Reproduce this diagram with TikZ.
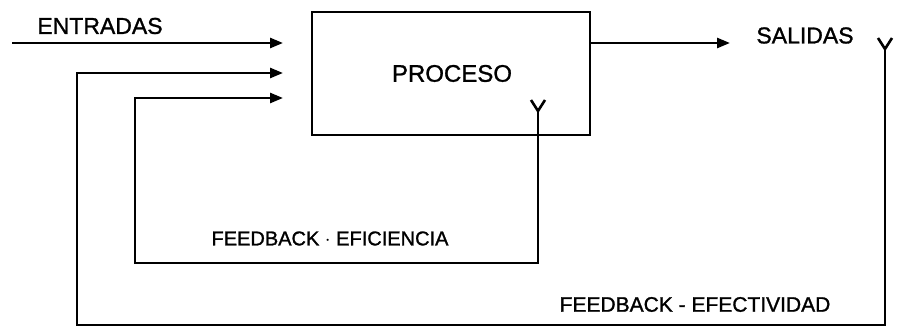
\documentclass[tikz,border=0pt]{standalone}
\usepackage{fontspec}
\setmainfont{Liberation Sans}[FakeBold=1.2]
\usetikzlibrary{arrows.meta,calc}
\begin{document}
\begin{tikzpicture}[x=1pt,y=-1pt,
  line/.style={line width=2.6pt,line join=miter},
  flow/.style={line,-{Triangle[length=13pt,width=10pt]}},
  fork/.style={line width=2.6pt,line cap=butt},
  label/.style={inner sep=0pt,anchor=center},
  procbox/.style={draw,line width=2.6pt,minimum width=278pt,minimum height=123pt,inner sep=0pt}]
\useasboundingbox (0,0) rectangle (897,328);

% process block
\node[procbox] (proc) at (451,73.5) {};
\node[label,font=\fontsize{24}{24}\selectfont] (proctxt) at (452,73.5) {PROCESO};

% free ends of the connectors
\coordinate (src) at (12,43);
\coordinate (in1) at (283,43);
\coordinate (in2) at (283,73);
\coordinate (in3) at (283,98);
\coordinate (out) at (730,43);
\coordinate (tapA) at (538,111);
\coordinate (tapB) at (885,49);

% inputs and output
\draw[flow] (src) -- (in1);
\draw[flow] (proc.east |- out) -- (out);

% efficiency loop: from inside the process back to the input
\draw[flow] (tapA) |- (135,263) |- (in3);
% effectiveness loop: from the outputs back to the input
\draw[flow] (tapB) |- (77,325) |- (in2);

% pick-off forks
\draw[fork] ($(tapA)+(-7,-11)$) -- (tapA) -- ($(tapA)+(7,-11)$);
\draw[fork] ($(tapB)+(-7,-11)$) -- (tapB) -- ($(tapB)+(7,-11)$);

% labels
\node[label,font=\fontsize{23}{23}\selectfont] (entradas) at (100,26) {ENTRADAS};
\node[label,font=\fontsize{23}{23}\selectfont] (salidas) at (805,35.5) {SALIDAS};
\node[label,font=\fontsize{20}{20}\selectfont] (efic) at (330,238.5) {FEEDBACK $\cdot$ EFICIENCIA};
\node[label,font=\fontsize{21}{21}\selectfont] (efec) at (695,304.5) {FEEDBACK - EFECTIVIDAD};
\end{tikzpicture}
\end{document}
